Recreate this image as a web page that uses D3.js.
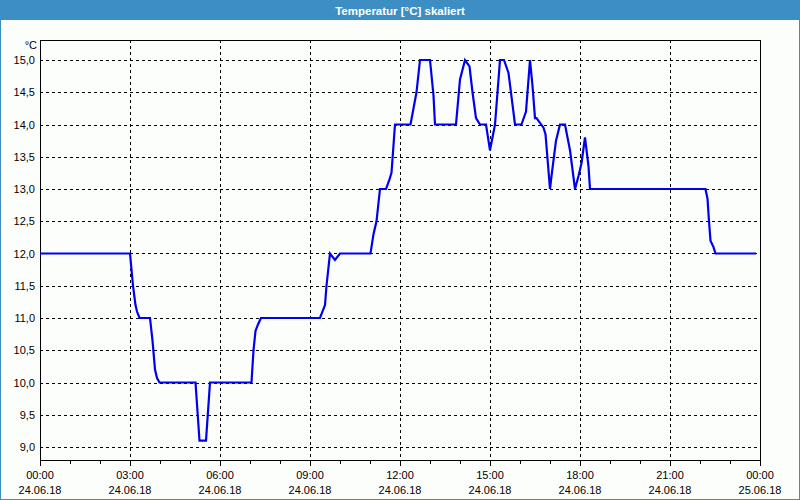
<!DOCTYPE html>
<html><head><meta charset="utf-8">
<script src="https://cdn.jsdelivr.net/npm/d3@7"></script>
<style>
body{margin:0;background:#fcfefc;}
svg{display:block;}
text{font-family:"Liberation Sans",Arial,sans-serif;}
</style></head>
<body>
<svg id="c" width="800" height="500"></svg>
<script>
const titleText = "Temperatur [°C] skaliert";
const unitLabel = "°C";
const times = ["00:00","03:00","03:06","03:11","03:14","03:19","03:40","03:45","03:50","03:54","03:59",
  "05:11","05:19","05:32","05:40","07:03","07:07","07:11","07:16","07:22","09:20","09:30","09:33","09:40","09:50","10:00",
  "11:01","11:07","11:13","11:20","11:32","11:39","11:43","11:50","12:21","12:33","12:40","13:00","13:07","13:10",
  "13:52","14:00","14:10","14:19","14:25","14:32","14:40","14:52","15:00","15:10","15:20","15:28","15:37","15:50",
  "16:03","16:12","16:20","16:25","16:30","16:33","16:47","16:51","17:00","17:03","17:12","17:20","17:30","17:40",
  "17:50","17:57","18:03","18:10","18:17","18:20","22:11","22:15","22:18","22:21","22:27","22:31","23:52"];
const values = [12.0,12.0,11.5,11.2,11.1,11.0,11.0,10.65,10.2,10.07,10.0,
  10.0,9.1,9.1,10.0,10.0,10.5,10.8,10.9,11.0,11.0,11.2,11.5,12.0,11.9,12.0,
  12.0,12.3,12.5,13.0,13.0,13.15,13.25,14.0,14.0,14.5,15.0,15.0,14.45,14.0,
  14.0,14.7,15.0,14.9,14.5,14.1,14.0,14.0,13.6,14.0,15.0,15.0,14.8,14.0,
  14.0,14.2,15.0,14.6,14.1,14.1,13.95,13.85,13.0,13.2,13.75,14.0,14.0,13.6,
  13.0,13.2,13.4,13.8,13.35,13.0,13.0,12.85,12.5,12.2,12.1,12.0,12.0];
const yTicks = [9.0,9.5,10.0,10.5,11.0,11.5,12.0,12.5,13.0,13.5,14.0,14.5,15.0];
const xTickHours = [0,3,6,9,12,15,18,21,24];
const xTimeLabels = ["00:00","03:00","06:00","09:00","12:00","15:00","18:00","21:00","00:00"];
const xDateLabels = ["24.06.18","24.06.18","24.06.18","24.06.18","24.06.18","24.06.18","24.06.18","24.06.18","25.06.18"];

const svg = d3.select("#c");
const W = 800, H = 500;
const L = 40, R = 760, T = 40, B = 460;

// window frame
svg.append("rect").attr("x",0.5).attr("y",0.5).attr("width",W-1).attr("height",H-1)
  .attr("fill","#fcfefc").attr("stroke","#3d8fc3");
svg.append("rect").attr("x",0).attr("y",0).attr("width",W).attr("height",20).attr("fill","#3d8fc3");
svg.append("text").attr("x",W/2).attr("y",14.5).attr("text-anchor","middle")
  .attr("fill","#fff").attr("font-weight","bold").attr("font-size","11.5px").text(titleText);

const toH = s => { const [h,m] = s.split(":").map(Number); return h + m/60; };
const x = d3.scaleLinear().domain([0,24]).range([L,R]);
const y = d3.scaleLinear().domain([15 + 20/64.5, 9 - 13/64.5]).range([T,B]);

const g = svg.append("g").attr("shape-rendering","crispEdges");
// horizontal grid
g.selectAll(".hg").data(yTicks).enter().append("line")
  .attr("x1",L).attr("x2",R).attr("y1",d=>Math.round(y(d))+0.5).attr("y2",d=>Math.round(y(d))+0.5)
  .attr("stroke","#000").attr("stroke-dasharray","3,3");
// vertical grid
g.selectAll(".vg").data(xTickHours.slice(1,-1)).enter().append("line")
  .attr("y1",T).attr("y2",B).attr("x1",d=>Math.round(x(d))+0.5).attr("x2",d=>Math.round(x(d))+0.5)
  .attr("stroke","#000").attr("stroke-dasharray","3,3");

// data line
const data = times.map((t,i)=>({h:toH(t), v:values[i]}));
svg.append("path").datum(data)
  .attr("d", d3.line().x(d=>x(d.h)).y(d=>y(d.v)))
  .attr("fill","none").attr("stroke","#0000f0").attr("stroke-width",2.2).attr("stroke-linejoin","miter");

// plot frame
g.append("rect").attr("x",L+0.5).attr("y",T+0.5).attr("width",R-L-1+1).attr("height",B-T)
  .attr("fill","none").attr("stroke","#000");

// y labels
svg.selectAll(".yl").data(yTicks).enter().append("text")
  .attr("x",35).attr("y",d=>y(d)+4).attr("text-anchor","end").attr("font-size","11px").attr("fill","#000")
  .text(d=>d3.format(".1f")(d).replace(".",","));
svg.append("text").attr("x",37).attr("y",49).attr("text-anchor","end").attr("font-size","11px").text(unitLabel);

// x axis ticks
const hours = d3.range(0,25);
g.selectAll(".xt").data(hours).enter().append("line")
  .attr("x1",d=>Math.round(x(d))+0.5).attr("x2",d=>Math.round(x(d))+0.5)
  .attr("y1",B).attr("y2",d=> d%3===0 ? B+6 : B+4).attr("stroke","#000");
svg.selectAll(".xl1").data(xTickHours).enter().append("text")
  .attr("x",d=>x(d)).attr("y",479).attr("text-anchor","middle").attr("font-size","11px")
  .text((d,i)=>xTimeLabels[i]);
svg.selectAll(".xl2").data(xTickHours).enter().append("text")
  .attr("x",d=>x(d)).attr("y",494).attr("text-anchor","middle").attr("font-size","11px")
  .text((d,i)=>xDateLabels[i]);
</script>
</body></html>
